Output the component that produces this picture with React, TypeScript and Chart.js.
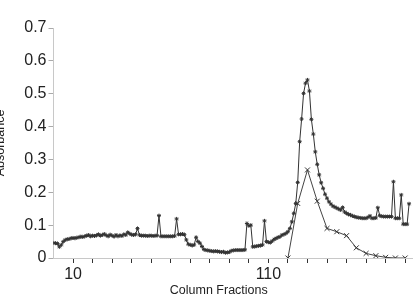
import React, { useEffect, useRef } from "react";
import { Chart, registerables } from "chart.js";

Chart.register(...registerables);

// Absorbance of every column fraction, starting at fraction 0
const fractionStart = 0;
const absorbanceA = [
  0.046, 0.045, 0.044, 0.034, 0.040, 0.050, 0.055, 0.057, 0.058, 0.060,
  0.061, 0.060, 0.062, 0.063, 0.065, 0.064, 0.066, 0.068, 0.070, 0.066,
  0.068, 0.067, 0.069, 0.072, 0.068, 0.070, 0.073, 0.069, 0.066, 0.071,
  0.068, 0.065, 0.070, 0.066, 0.069, 0.067, 0.072, 0.070, 0.078, 0.074,
  0.071, 0.070, 0.072, 0.090, 0.070, 0.068, 0.068, 0.068, 0.067, 0.068,
  0.068, 0.067, 0.068, 0.068, 0.129, 0.066, 0.066, 0.066, 0.066, 0.066,
  0.066, 0.066, 0.067, 0.119, 0.072, 0.072, 0.073, 0.071, 0.055, 0.042,
  0.040, 0.038, 0.040, 0.063, 0.050, 0.045, 0.035, 0.026, 0.024, 0.023,
  0.022, 0.021, 0.020, 0.021, 0.020, 0.019, 0.018, 0.019, 0.016, 0.017,
  0.018, 0.022, 0.023, 0.024, 0.024, 0.024, 0.024, 0.024, 0.025, 0.105,
  0.098, 0.100, 0.034, 0.035, 0.036, 0.037, 0.038, 0.040, 0.113, 0.050,
  0.048, 0.047, 0.052, 0.057, 0.060, 0.063, 0.065, 0.070, 0.072, 0.075,
  0.080, 0.090, 0.110, 0.136, 0.166, 0.230, 0.354, 0.423, 0.501, 0.532,
  0.542, 0.508, 0.422, 0.377, 0.323, 0.285, 0.253, 0.229, 0.212, 0.194,
  0.182, 0.171, 0.164, 0.158, 0.155, 0.152, 0.149, 0.146, 0.154, 0.140,
  0.136, 0.133, 0.131, 0.128, 0.126, 0.124, 0.123, 0.122, 0.121, 0.121,
  0.121, 0.124, 0.128, 0.121, 0.121, 0.122, 0.153, 0.129, 0.127, 0.126,
  0.126, 0.126, 0.126, 0.126, 0.232, 0.121, 0.121, 0.121, 0.192, 0.103,
  0.103, 0.103, 0.165,
];

// Second series, measured every 5th fraction
const fractionsB = [120, 125, 130, 135, 140, 145, 150, 155, 160, 165, 170, 175, 180];
const absorbanceB = [0, 0.166, 0.268, 0.173, 0.09, 0.08, 0.068, 0.031, 0.014, 0.007, 0.002, 0, 0];

const xTickValues = [10, 20, 30, 40, 50, 60, 70, 80, 90, 100, 110, 120, 130, 140, 150, 160, 170, 180];
const xLabelled = [10, 110];
const yTickValues = [0, 0.1, 0.2, 0.3, 0.4, 0.5, 0.6, 0.7];
const yTickLabels = ["0", "0.1", "0.2", "0.3", "0.4", "0.5", "0.6", "0.7"];

const xTitle = "Column Fractions";
const yTitle = "Absorbance";

const FONT = "'Liberation Sans', Arial, Helvetica, sans-serif";
const TEXT = "#222222";

export default function App() {
  const ref = useRef<HTMLCanvasElement | null>(null);

  useEffect(() => {
    if (!ref.current) return;

    const xTitlePlugin = {
      id: "xTitleOffset",
      afterDraw(chart: any) {
        const { ctx, chartArea } = chart;
        ctx.save();
        ctx.font = `12.5px ${FONT}`;
        ctx.fillStyle = TEXT;
        ctx.textAlign = "center";
        ctx.textBaseline = "middle";
        ctx.fillText(xTitle, chartArea.left + chartArea.width * 0.461, chart.height - 10);
        ctx.restore();
      },
    };

    const chart = new Chart(ref.current, {
      type: "line",
      data: {
        datasets: [
          {
            label: "A",
            data: absorbanceA.map((v, i) => ({ x: fractionStart + i, y: v })),
            borderColor: "#333333",
            borderWidth: 1,
            pointStyle: "star",
            pointRadius: 2,
            pointBorderWidth: 1,
            pointBorderColor: "#333333",
            pointBackgroundColor: "#333333",
            tension: 0,
          },
          {
            label: "B",
            data: fractionsB.map((f, i) => ({ x: f, y: absorbanceB[i] })),
            borderColor: "#444444",
            borderWidth: 1,
            pointStyle: "crossRot",
            pointRadius: 3.5,
            pointBorderWidth: 1,
            pointBorderColor: "#333333",
            tension: 0,
          },
        ],
      },
      options: {
        animation: false,
        responsive: false,
        layout: { padding: { top: 28, right: 0, bottom: 0, left: 0 } },
        plugins: { legend: { display: false }, tooltip: { enabled: false }, title: { display: false } },
        scales: {
          x: {
            type: "linear",
            min: 0,
            max: 183.5,
            afterBuildTicks: (scale: any) => {
              scale.ticks = xTickValues.map((v) => ({ value: v }));
            },
            afterFit: (scale: any) => {
              scale.height = 43;
            },
            ticks: {
              autoSkip: false,
              maxRotation: 0,
              padding: 2,
              color: TEXT,
              font: { family: FONT, size: 16 },
              callback: (v: any) => (xLabelled.includes(Number(v)) ? String(v) : ""),
            },
            grid: {
              drawOnChartArea: false,
              drawTicks: true,
              tickLength: 5,
              tickColor: "#333333",
              tickWidth: 1,
            },
            border: { color: "#c8c8c8", width: 1 },
            title: { display: false },
          },
          y: {
            type: "linear",
            min: 0,
            max: 0.7,
            afterBuildTicks: (scale: any) => {
              scale.ticks = yTickValues.map((v) => ({ value: v }));
            },
            afterFit: (scale: any) => {
              scale.width = 60.5;
            },
            ticks: {
              padding: 2,
              color: TEXT,
              font: { family: FONT, size: 16 },
              callback: (v: any) => {
                const idx = yTickValues.findIndex((t) => Math.abs(t - Number(v)) < 1e-9);
                return idx >= 0 ? yTickLabels[idx] : "";
              },
            },
            grid: {
              drawOnChartArea: false,
              drawTicks: true,
              tickLength: 5,
              tickColor: "#aaaaaa",
              tickWidth: 1,
            },
            border: { color: "#c8c8c8", width: 1 },
            title: {
              display: true,
              text: yTitle,
              color: TEXT,
              padding: 0,
              font: { family: FONT, size: 12.5, lineHeight: 1.2 },
            },
          },
        },
      },
      plugins: [xTitlePlugin],
    });

    return () => chart.destroy();
  }, []);

  return (
    <div
      style={{
        position: "fixed",
        left: 0,
        top: 0,
        width: 417,
        height: 301,
        overflow: "hidden",
        background: "#ffffff",
      }}
    >
      <div style={{ position: "absolute", left: -7, top: 0, width: 424, height: 301 }}>
        <canvas ref={ref} width={424} height={301} style={{ display: "block" }} />
      </div>
    </div>
  );
}
